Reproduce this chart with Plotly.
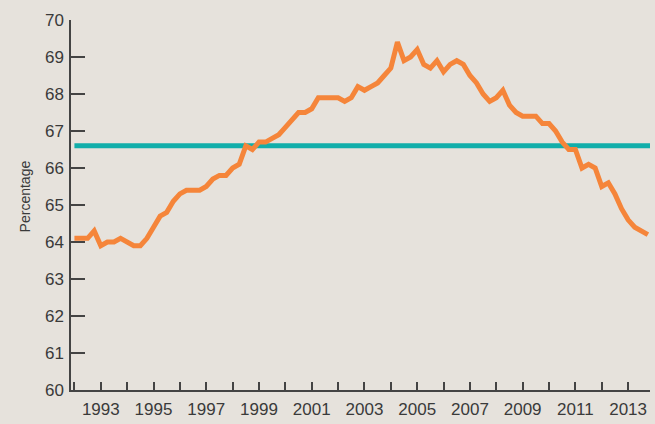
import plotly.graph_objects as go

start_year = 1992
rate = [
    64.1, 64.1, 64.1, 64.3,
    63.9, 64.0, 64.0, 64.1,
    64.0, 63.9, 63.9, 64.1,
    64.4, 64.7, 64.8, 65.1,
    65.3, 65.4, 65.4, 65.4,
    65.5, 65.7, 65.8, 65.8,
    66.0, 66.1, 66.6, 66.5,
    66.7, 66.7, 66.8, 66.9,
    67.1, 67.3, 67.5, 67.5,
    67.6, 67.9, 67.9, 67.9,
    67.9, 67.8, 67.9, 68.2,
    68.1, 68.2, 68.3, 68.5,
    68.7, 69.4, 68.9, 69.0,
    69.2, 68.8, 68.7, 68.9,
    68.6, 68.8, 68.9, 68.8,
    68.5, 68.3, 68.0, 67.8,
    67.9, 68.1, 67.7, 67.5,
    67.4, 67.4, 67.4, 67.2,
    67.2, 67.0, 66.7, 66.5,
    66.5, 66.0, 66.1, 66.0,
    65.5, 65.6, 65.3, 64.9,
    64.6, 64.4, 64.3, 64.2,
]
quarters = [start_year + i * 0.25 for i in range(len(rate))]
average = 66.6

tick_years = list(range(1992, 2014))
tick_labels = [str(y) if y % 2 == 1 else "" for y in tick_years]
y_ticks = list(range(60, 71))

x_range = [1991.87, 2013.83]
y_range = [60, 70]

bg = "#E6E2DC"
txt = "#3A3A3A"
font_fam = "Liberation Sans, Arial, sans-serif"

fig = go.Figure()
fig.add_trace(go.Scatter(
    x=[quarters[0], x_range[1]], y=[average, average], mode="lines",
    line=dict(color="#11AEAA", width=5), hoverinfo="skip", showlegend=False,
))
fig.add_trace(go.Scatter(
    x=quarters, y=rate, mode="lines",
    line=dict(color="#F5853A", width=5), showlegend=False,
))

fig.update_layout(
    width=655, height=424,
    margin=dict(l=71, r=5, t=20, b=32),
    paper_bgcolor=bg, plot_bgcolor=bg,
    font=dict(family=font_fam, color=txt, size=17),
    xaxis=dict(
        range=x_range, tickmode="array", tickvals=tick_years, ticktext=tick_labels,
        ticks="inside", ticklen=8, tickwidth=1.5, tickcolor="#444",
        showline=True, linecolor="#444", linewidth=1.5,
        showgrid=False, zeroline=False, ticklabelstandoff=3,
        tickfont=dict(family=font_fam, size=17, color=txt),
    ),
    yaxis=dict(
        range=y_range, tickmode="array", tickvals=y_ticks,
        ticks="inside", ticklen=14, tickwidth=1.5, tickcolor="#444",
        showline=True, linecolor="#444", linewidth=1.5,
        showgrid=False, zeroline=False, ticklabelstandoff=2,
        tickfont=dict(family=font_fam, size=17, color=txt),
    ),
    annotations=[dict(
        text="Percentage", textangle=-90, xref="paper", yref="paper",
        x=-0.079, y=0.524, xanchor="center", yanchor="middle", showarrow=False,
        font=dict(family=font_fam, size=14, color=txt),
    )],
)

fig.write_html(
    "out.html",
    config={"displayModeBar": False},
    post_script="document.body.style.margin='0';document.body.style.background='#E6E2DC';",
)
